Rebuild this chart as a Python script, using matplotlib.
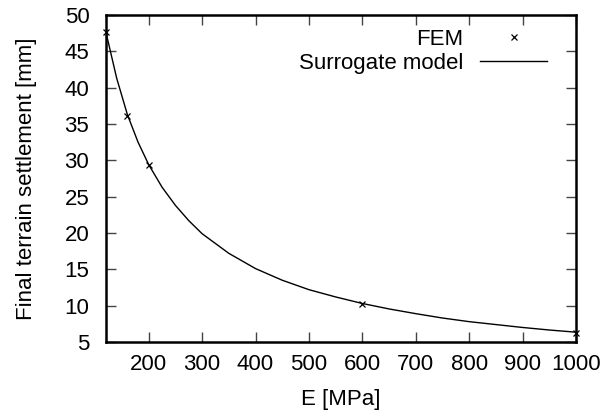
import matplotlib
matplotlib.use("Agg")
import matplotlib.pyplot as plt

# FEM data points
fem_E = [120, 160, 200, 600, 1000]
fem_s = [47.6, 36.1, 29.3, 10.2, 6.3]

# Surrogate model curve
sur_E = [120, 140, 160, 180, 200, 225, 250, 275, 300, 350, 400, 450, 500,
         550, 600, 650, 700, 750, 800, 850, 900, 950, 1000]
sur_s = [47.6, 41.3, 36.3, 32.5, 29.4, 26.3, 23.8, 21.7, 19.9, 17.2, 15.1,
         13.5, 12.2, 11.2, 10.3, 9.55, 8.9, 8.3, 7.8, 7.4, 7.0, 6.65, 6.35]

xticks = [200, 300, 400, 500, 600, 700, 800, 900, 1000]
yticks = [5, 10, 15, 20, 25, 30, 35, 40, 45, 50]

plt.rcParams['font.family'] = ['Liberation Sans', 'DejaVu Sans']
FS = 16
fig = plt.figure(figsize=(6.07, 4.17), dpi=100)
L, R, T, B = 106 / 607, 576 / 607, 15 / 417, 342 / 417
ax = fig.add_axes([L, 1 - B, R - L, B - T])

ax.plot(fem_E, fem_s, linestyle='none', marker='x', color='black',
        markersize=4.5, markeredgewidth=0.9, label='FEM', clip_on=False, zorder=3)
ax.plot(sur_E, sur_s, color='black', linewidth=1.0, label='Surrogate model')

ax.set_xlim(120, 1000)
ax.set_ylim(5, 50)
ax.set_xticks(xticks)
ax.set_yticks(yticks)
ax.tick_params(direction='in', length=7, width=1, top=True, right=True,
               labelsize=FS, color='#444444')
ax.tick_params(axis='x', pad=9)
ax.tick_params(axis='y', pad=12)
for sp in ax.spines.values():
    sp.set_linewidth(1.8)

ax.set_xlabel('E [MPa]', fontsize=FS, labelpad=10)
ax.set_ylabel('Final terrain settlement [mm]', fontsize=FS, labelpad=20)

leg = ax.legend(loc='upper right', bbox_to_anchor=(0.938, 0.957), frameon=False,
                markerfirst=False, fontsize=FS, handlelength=3.0,
                labelspacing=0.12, handletextpad=0.77, borderpad=0.0,
                borderaxespad=0.0)
for t in leg.get_texts():
    t.set_ha('right')
leg._legend_box.align = 'right'

fig.savefig('out.png', dpi=100)
